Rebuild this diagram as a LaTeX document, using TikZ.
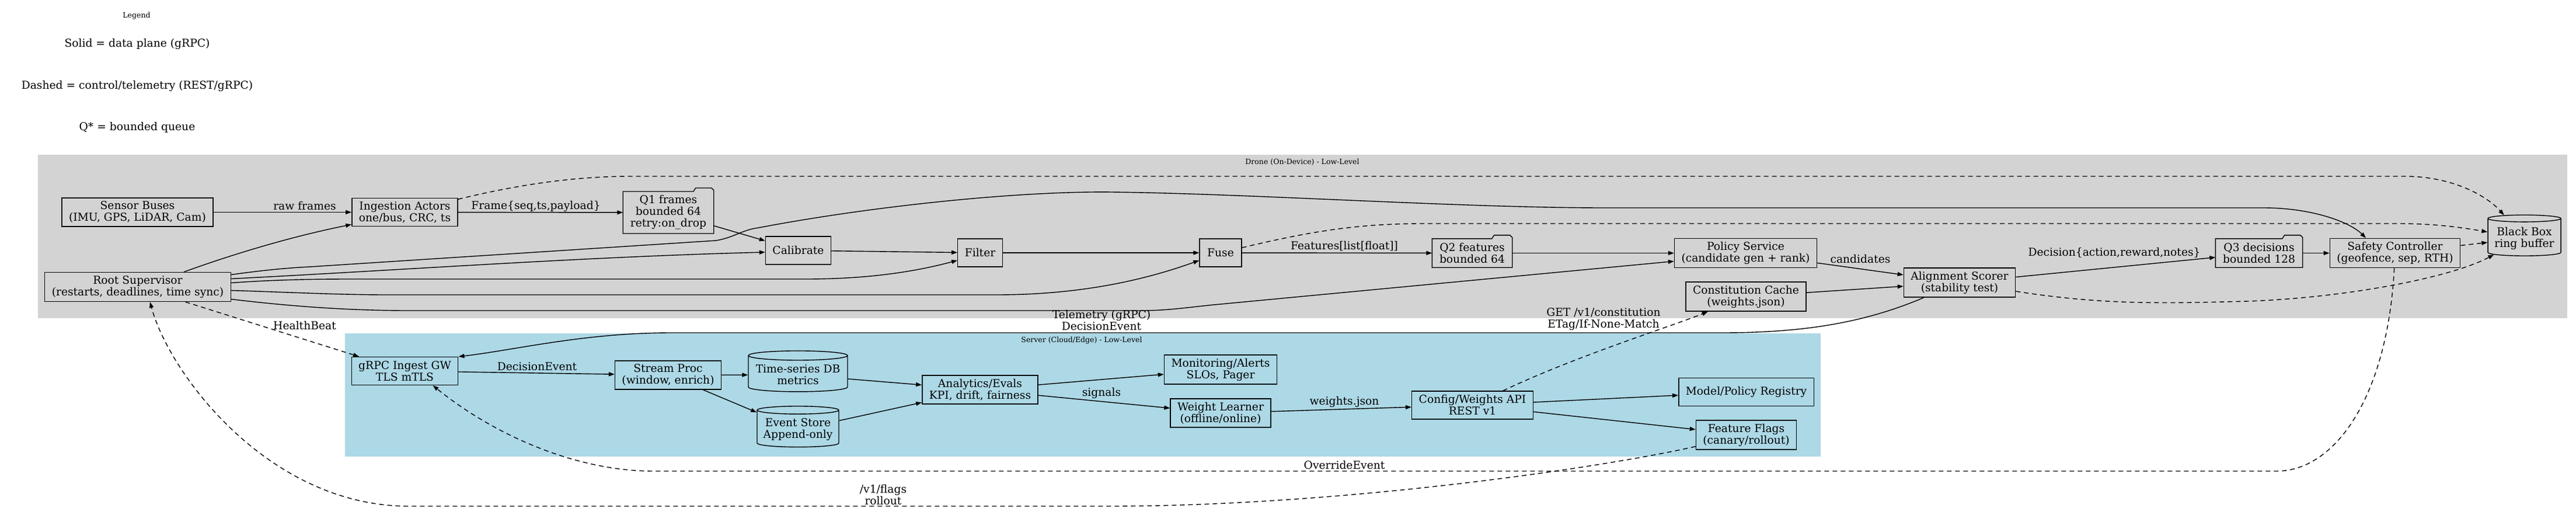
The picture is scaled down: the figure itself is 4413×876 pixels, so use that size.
\documentclass[tikz,border=0pt]{standalone}
\usepackage{fontspec}
\setmainfont{DejaVu Serif}
\usepackage{xcolor}
\usepackage{tikz}
\usetikzlibrary{arrows.meta,
                calc,
                positioning,
                shapes.geometric}
\definecolor{dronegray}{HTML}{D3D3D3}
\definecolor{serverblue}{HTML}{ADD8E6}
\newcommand{\qfolder}[1]{%
  \draw[line width=1.4pt] (#1.south west) -- (#1.north west)
    -- ([xshift=-35pt]#1.north east) -- ++(4pt,6pt) -- ++(27pt,0pt)
    -- ++(4pt,-4pt) -- (#1.south east) -- cycle;}

\begin{document}
\begin{tikzpicture}[x=1pt, y=-1pt,
  font=\fontsize{18.7pt}{20pt}\selectfont,
  box/.style={draw, line width=1.4pt, align=center, inner xsep=12pt, inner ysep=6pt,
              minimum width=72pt, minimum height=48pt},
  queue/.style={box, draw=none},
  store/.style={cylinder, shape border rotate=90, aspect=0.1, draw, line width=1.4pt,
                align=center, inner xsep=8pt, inner ysep=4pt},
  flow/.style={-{Triangle[length=10pt,width=7pt]}, line width=1.4pt},
  ctrl/.style={flow, dash pattern=on 8pt off 6pt},
  lbl/.style={inner sep=1pt, align=center},
  small/.style={font=\fontsize{12.5pt}{14pt}\selectfont}]
\useasboundingbox (0,0) rectangle (4413,876);
\fill[dronegray] (65,265) rectangle (4398,545);
\fill[serverblue] (591,571) rectangle (3119,782);

\node[small] (legendt) at (234,27) {Legend};
\node (lsolid) at (235,75) {Solid = data plane (gRPC)};
\node (ldash) at (235,147) {Dashed = control/telemetry (REST/gRPC)};
\node (lqueue) at (235,218) {Q* = bounded queue};
\node[small] (dronet) at (2231,278) {Drone (On-Device) - Low-Level};
\node[small] (servert) at (1853,583) {Server (Cloud/Edge) - Low-Level};

\node[box] (sensors) at (235.5,363.5) {Sensor Buses\\(IMU, GPS, LiDAR, Cam)};
\node[box] (ingest) at (693.5,363.5) {Ingestion Actors\\one/bus, CRC, ts};
\node[queue] (qone) at (1145,364) {Q1 frames\\bounded 64\\retry:on\_drop};
\qfolder{qone}
\node[box] (root) at (236,491.5) {Root Supervisor\\(restarts, deadlines, time sync)};
\node[box] (calib) at (1367.5,429) {Calibrate};
\node[box] (filter) at (1679,433) {Filter};
\node[box] (fuse) at (2091,433) {Fuse};
\node[queue] (qtwo) at (2522,433.5) {Q2 features\\bounded 64};
\qfolder{qtwo}
\node[box] (policy) at (2990.5,433.5) {Policy Service\\(candidate gen + rank)};
\node[box] (constc) at (2991,508) {Constitution Cache\\(weights.json)};
\node[box] (align) at (3357,484) {Alignment Scorer\\(stability test)};
\node[queue] (qthree) at (3870,433.5) {Q3 decisions\\bounded 128};
\qfolder{qthree}
\node[box] (safety) at (4103,433.5) {Safety Controller\\(geofence, sep, RTH)};
\node[store, minimum width=125pt, minimum height=70pt] (blackbox) at (4324.5,408) {Black Box\\ring buffer};

\node[box] (gw) at (693.5,635.5) {gRPC Ingest GW\\TLS mTLS};
\node[box] (stream) at (1144.5,642.5) {Stream Proc\\(window, enrich)};
\node[store, minimum width=170pt, minimum height=70pt] (tsdb) at (1367,642) {Time-series DB\\metrics};
\node[store, minimum width=140pt, minimum height=70pt] (evstore) at (1367,736) {Event Store\\Append-only};
\node[box] (analytics) at (1679,667.5) {Analytics/Evals\\KPI, drift, fairness};
\node[box] (monitor) at (2091,633) {Monitoring/Alerts\\SLOs, Pager};
\node[box] (learner) at (2091,707.5) {Weight Learner\\(offline/online)};
\node[box] (config) at (2522.5,694) {Config/Weights API\\REST v1};
\node[box] (registry) at (2991.5,671.5) {Model/Policy Registry};
\node[box] (flags) at (2991.5,745) {Feature Flags\\(canary/rollout)};

\node[lbl] (lraw) at (522,353) {raw frames};
\node[lbl] (lframe) at (918,353) {Frame\{seq,ts,payload\}};
\node[lbl] (lfeat) at (2303,422) {Features[list[float]]};
\node[lbl] (lcand) at (3187,444) {candidates};
\node[lbl] (ldec) at (3622,433) {Decision\{action,reward,notes\}};
\node[lbl] (lhealth) at (522,558) {HealthBeat};
\node[lbl] (ltele) at (1887,549) {Telemetry (gRPC)\\DecisionEvent};
\node[lbl] (lget) at (2747,547) {GET /v1/constitution\\ETag/If-None-Match};
\node[lbl] (ldecev) at (920,628) {DecisionEvent};
\node[lbl] (lsig) at (1887,673) {signals};
\node[lbl] (lweights) at (2303,688) {weights.json};
\node[lbl] (lover) at (2303,797) {OverrideEvent};
\node[lbl] (lflags) at (1513,848) {/v1/flags\\rollout};

\draw[flow] (sensors) -- (ingest);
\draw[flow] (ingest) -- (qone);
\draw[flow] (qone) -- (calib);
\draw[flow] ([xshift=79pt]root.north) .. controls (400,435) and (500,405) .. ([yshift=-21pt]ingest.west);
\draw[flow] ([yshift=21pt]root.east) .. controls (450,463) and (490,459) .. (531,457) -- (1227,412)
  .. controls (1260,406) and (1270,394) .. (1300,390) .. controls (1500,352) and (1750,327) .. (1905,329)
  .. controls (2150,332) and (2500,356) .. (2750,356) -- (3878,356)
  .. controls (3960,356) and (4025,380) .. ([xshift=-50pt]safety.north);
\draw[flow] ([yshift=14pt]root.east) .. controls (700,462) and (1000,440) .. ([yshift=-3pt]calib.west);
\draw[flow] ([yshift=7pt]root.east) .. controls (460,480) and (520,478) .. (600,478) -- (1380,478)
  .. controls (1500,478) and (1580,462) .. ([yshift=-13pt]filter.west);
\draw[flow] ([yshift=-6pt]root.east) .. controls (480,500) and (580,505) .. (663,505) -- (1706,505)
  .. controls (1850,505) and (1960,480) .. ([yshift=-13pt]fuse.west);
\draw[flow] ([yshift=-21pt]root.east) .. controls (500,525) and (600,532) .. (700,532) -- (1955,532)
  .. controls (2000,532) and (2030,527) .. (2080,522) -- ([yshift=-14pt]policy.west);
\draw[flow] (calib) -- (filter);
\draw[flow] (filter) -- (fuse);
\draw[flow] (fuse) -- (qtwo);
\draw[flow] (qtwo) -- (policy);
\draw[flow] (policy) -- (align);
\draw[flow] (constc) -- (align);
\draw[flow] (align) -- (qthree);
\draw[flow] (qthree) -- (safety);
\draw[ctrl] (ingest) .. controls (880,318) and (980,302) .. (1080,302) -- (4120,302)
  .. controls (4200,302) and (4260,335) .. (blackbox);
\draw[ctrl] (fuse) .. controls (2250,395) and (2330,383) .. (2440,383) -- (4110,383)
  .. controls (4180,383) and (4230,392) .. (blackbox);
\draw[ctrl] ([yshift=13pt]safety.east) -- (blackbox);
\draw[ctrl] (align) .. controls (3600,522) and (3700,520) .. (3850,516)
  .. controls (4020,510) and (4200,475) .. (blackbox);

\draw[ctrl] (root) -- (gw);
\draw[flow] (align) .. controls (3200,550) and (3100,570) .. (2950,570) -- (1150,570)
  .. controls (1000,570) and (880,600) .. (gw.north east);
\draw[flow] (gw) -- (stream);
\draw[flow] (stream) -- (tsdb);
\draw[flow] (stream) -- (evstore);
\draw[flow] (tsdb) -- (analytics);
\draw[flow] (evstore) -- (analytics);
\draw[flow] (analytics) -- (monitor);
\draw[flow] (analytics) -- (learner);
\draw[flow] (learner) -- (config);
\draw[flow] (config) -- (registry);
\draw[flow] (config) -- (flags);
\draw[ctrl] (config) .. controls (2700,610) and (2860,560) .. (constc);
\draw[ctrl] (flags) .. controls (2750,800) and (2300,867) .. (1900,867) -- (700,867)
  .. controls (460,867) and (290,640) .. ([xshift=21pt]root.south);
\draw[ctrl] (safety) .. controls (4090,680) and (4000,807) .. (3900,807) -- (1120,807)
  .. controls (980,807) and (840,740) .. ([xshift=48pt]gw.south);
\end{tikzpicture}
\end{document}
